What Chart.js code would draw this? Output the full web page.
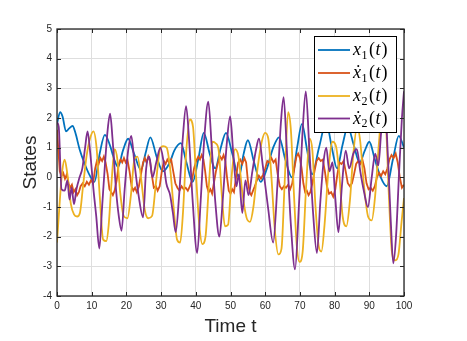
<!DOCTYPE html>
<html lang="en">
<head>
  <meta charset="UTF-8">
  <title>States</title>
  <style>
    html, body { margin: 0; padding: 0; background: #fff; }
    #chart { display: block; }
  </style>
</head>
<body>
  <canvas id="chart" width="467" height="341"></canvas>

  <script src="https://cdn.jsdelivr.net/npm/chart.js"></script>

  <script>
    // axis ranges / ticks
    const xMin = 0, xMax = 100, xStep = 10;
    const yMin = -4, yMax = 5, yStep = 1;

    // legend text pieces: letter, subscript
    const seriesLetters = ['x', '\u1E8B', 'x', '\u1E8B'];
    const seriesSubs = ['1', '1', '2', '2'];
    const seriesLabels = ['x\u2081(t)', '\u1E8B\u2081(t)', 'x\u2082(t)', '\u1E8B\u2082(t)'];
    const seriesColors = ['#0072BD', '#D95319', '#EDB120', '#7E2F8E'];

    // x1(t)
    const x1T = [0, 0.9, 1.6, 2.6, 3.5, 4.5, 5.3, 6.5, 8, 9.5, 10.8, 12.3, 13.8, 15.2, 16.5, 17.6, 19, 20.5, 22.2, 24.2,
      25.5, 26.9, 28.7, 30.5, 32.5, 33.8, 35.7, 37.3, 39.1, 40.7, 42.3, 44, 45.6, 47.2, 48.7, 50.5, 52.4, 53.8, 55, 56.8,
      58.7, 60.5, 62.3, 64, 65.8, 67.7, 69.2, 70.6, 72.1, 73.5, 75.5, 77.6, 79.2, 80.7, 82.3, 83.8, 85.5, 87.2, 88.7, 90,
      91.6, 93.3, 95, 96.8, 98.5, 100];
    const x1V = [1.8, 2.2, 2.05, 1.55, 1.65, 1.73, 1.5, 0.95, 0.45, 0.05, -0.15, 0.8, 1.43, 1.1, 0.6, 0.35, 0.9, 1.3, 0.8, 0.25,
      0.8, 1.35, 0.7, 0.2, 0.5, 0.9, 1.15, 0.5, -0.15, 0.6, 1.5, 0.8, 0.3, 1.0, 1.5, 0.8, 0.0, 0.8, 1.25, 0.5,
      -0.15, 0.3, 1.0, 1.35, 0.6, 0.0, 1.0, 1.8, 0.9, 0.1, 1.0, 1.85, 1.0, 0.3, 1.1, 1.7, 1.1, 0.5, 0.9, 1.2,
      0.6, 0.0, -0.3, 0.6, 1.4, 1.0];

    // x1'(t)
    const dx1T = [0, 0.3, 0.8, 1.3, 1.8, 2.3, 2.8, 3.3, 3.8, 4.3, 4.8, 5.3, 5.8, 6.3, 6.8, 7.4, 8.0, 8.6, 9.2, 9.8,
      10.4, 11.0, 11.5, 12.0, 12.5, 13.0, 13.5, 14.0, 14.6, 15.1, 15.6, 16.1, 16.6, 17.2, 17.8, 18.3, 18.8, 19.3, 19.8, 20.3,
      20.9, 21.5, 22.0, 22.5, 23.0, 23.6, 24.2, 24.8, 25.3, 25.8, 26.3, 26.8, 27.3, 27.9, 28.5, 29.0, 29.6, 30.2, 30.8, 31.3,
      31.8, 32.3, 32.9, 33.5, 34.1, 34.7, 35.3, 35.9, 36.5, 37.1, 37.7, 38.3, 38.9, 39.5, 40.1, 40.7, 41.2, 41.7, 42.2, 42.7,
      43.2, 43.7, 44.2, 44.7, 45.2, 45.8, 46.4, 47.0, 47.5, 48.0, 48.5, 49.0, 49.5, 50.0, 50.5, 51.0, 51.6, 52.2, 52.8, 53.4,
      54.0, 54.5, 55.0, 55.5, 56.0, 56.5, 57.0, 57.6, 58.2, 58.8, 59.4, 60.0, 60.6, 61.2, 61.8, 62.4, 63.0, 63.6, 64.2, 64.8,
      65.4, 66.0, 66.6, 67.2, 67.8, 68.4, 69.0, 69.5, 70.0, 70.5, 71.0, 71.5, 72.0, 72.5, 73.0, 73.6, 74.2, 74.8, 75.4, 76.0,
      76.6, 77.2, 77.8, 78.4, 79.0, 79.6, 80.2, 80.8, 81.4, 82.0, 82.6, 83.2, 83.8, 84.4, 85.0, 85.6, 86.2, 86.8, 87.4, 88.0,
      88.6, 89.2, 89.8, 90.4, 91.0, 91.6, 92.2, 92.8, 93.4, 94.0, 94.6, 95.2, 95.8, 96.4, 97.0, 97.6, 98.2, 98.8, 99.4, 100];
    const dx1V = [1.6, 1.1, 0.2, 0.05, 0.15, -0.05, 0.1, -0.2, -0.35, -0.25, -0.5, -0.4, -0.6, -0.5, -0.3, -0.2, -0.3, -0.15, -0.25, -0.1,
      -0.2, 0.3, 0.55, 0.45, 0.65, 0.55, 0.7, 0.5, 0.1, -0.4, -0.5, -0.6, -0.45, -0.1, 0.45, 0.6, 0.5, 0.65, 0.5, 0.6,
      0.2, -0.3, -0.45, -0.35, -0.5, -0.3, 0.1, 0.5, 0.65, 0.5, 0.7, 0.55, 0.1, -0.35, -0.3, -0.45, -0.3, 0.2, 0.55, 0.45,
      0.6, 0.5, 0.6, 0.2, -0.2, -0.35, -0.45, -0.3, -0.4, -0.35, -0.45, -0.3, -0.1, 0.3, 0.55, 0.7, 0.6, 0.75, 0.6, 0.2,
      -0.3, -0.5, -0.4, -0.55, -0.2, 0.2, 0.5, 0.7, 0.6, 0.75, 0.55, 0.0, -0.45, -0.55, -0.4, -0.5, 0.0, 0.5, 0.6, 0.45,
      0.65, 0.5, -0.1, -0.5, -0.6, -0.45, -0.3, -0.1, 0.05, -0.05, 0.1, 0.3, 0.55, 0.5, 0.65, 0.5, 0.6, 0.1, -0.3, -0.4,
      -0.3, -0.35, -0.25, -0.4, -0.2, 0.3, 0.7, 0.8, 0.65, 0.3, -0.2, -0.5, -0.45, -0.6, -0.5, -0.2, 0.2, 0.55, 0.65, 0.55,
      0.6, 0.2, -0.3, -0.55, -0.5, -0.65, -0.4, 0.1, 0.5, 0.45, 0.55, 0.2, -0.2, -0.3, -0.2, 0.1, 0.45, 0.55, 0.45, 0.6,
      0.3, -0.2, -0.4, -0.35, -0.45, -0.3, 0.0, 0.15, 0.05, 0.2, 0.1, 0.3, 0.6, 0.75, 0.65, 0.8, 0.5, 0.0, -0.35, -0.25];

    // x2(t)
    const x2T = [0, 0.8, 1.5, 2.2, 3.0, 4.0, 4.9, 5.8, 6.6, 7.5, 8.5, 9.5, 10.5, 11.4, 12.3, 13.3, 14.2, 14.9, 15.7, 16.6,
      17.4, 18.2, 19.2, 20.3, 21.3, 22.3, 23.2, 24.2, 25.3, 26.3, 27.4, 28.5, 29.6, 30.6, 31.6, 32.6, 33.6, 34.6, 35.5, 36.3,
      37.2, 38.3, 39.2, 40.0, 41.0, 41.9, 42.8, 43.8, 44.8, 45.7, 46.6, 47.5, 48.4, 49.3, 50.3, 51.3, 52.3, 53.4, 54.6, 55.6,
      56.6, 57.8, 59.0, 60.0, 60.9, 61.8, 62.8, 63.8, 64.7, 65.6, 66.6, 67.4, 68.3, 69.1, 69.9, 70.8, 71.8, 72.8, 73.6, 74.5,
      75.4, 76.2, 77.1, 78.2, 79.4, 80.4, 81.3, 82.3, 83.4, 84.4, 85.4, 86.5, 87.4, 88.4, 89.6, 90.7, 91.7, 92.8, 93.9, 94.8,
      95.6, 96.5, 97.5, 98.4, 99.3, 100];
    const x2V = [-2.2, -0.8, 0.2, 0.6, 0.1, -0.9, -1.25, -1.32, -1.2, -0.3, 0.7, 1.3, 1.55, 1.0, -0.6, -2.1, -2.15, -1.6, -0.2, 0.95,
      0.6, -0.5, -1.3, -1.38, -0.6, 0.6, 0.7, 0.0, -1.1, -1.38, -1.3, -0.2, 0.9, 1.05, 1.0, 0.3, -1.0, -2.1, -2.2, -1.2,
      0.8, 1.95, 1.7, 0.2, -1.6, -2.25, -2.0, -0.2, 1.2, 1.15, 0.9, -0.6, -1.65, -1.6, 0.0, 0.95, 0.7, -0.5, -1.35, -1.5,
      -1.0, 0.3, 1.2, 1.5, 1.3, 0.0, -1.8, -2.6, -2.4, -0.2, 2.2, 1.6, -0.6, -2.3, -2.85, -2.5, -0.3, 1.3, 0.9, -1.0,
      -2.3, -2.5, -1.6, 0.2, 1.2, 1.05, 0.2, -1.3, -1.65, -0.8, 0.8, 1.7, 1.2, -0.2, -1.3, -1.45, -0.6, 1.2, 2.5, 1.8,
      -0.5, -2.5, -2.8, -2.6, -1.5, -0.7];

    // x2'(t)
    const dx2T = [0, 0.5, 1.3, 2.2, 3.0, 3.6, 4.2, 4.9, 5.6, 6.5, 7.3, 8.1, 8.8, 9.6, 10.5, 11.3, 12.2, 13.0, 13.8, 14.6,
      15.3, 16.0, 17.0, 17.8, 18.6, 19.5, 20.5, 21.4, 22.3, 23.5, 24.8, 25.7, 26.6, 27.5, 28.6, 29.8, 30.6, 31.5, 32.6, 33.4,
      34.2, 35.2, 36.3, 37.2, 38.1, 39.1, 40.4, 41.4, 42.5, 43.6, 44.6, 45.6, 46.8, 47.8, 48.9, 49.9, 50.8, 51.7, 52.4, 53.4,
      54.3, 55.2, 56.3, 57.3, 58.2, 59.3, 60.8, 62.3, 63.5, 64.5, 65.3, 66.2, 67.4, 68.6, 69.7, 70.8, 71.7, 72.7, 73.8, 74.9,
      75.9, 76.8, 77.6, 78.5, 79.4, 80.2, 81.1, 82.1, 83.2, 84.2, 85.4, 86.4, 87.4, 88.5, 89.6, 90.7, 91.7, 92.6, 93.4, 94.4,
      95.4, 96.2, 96.9, 97.7, 98.6, 99.4, 100];
    const dx2V = [1.85, 1.7, -0.4, -0.45, -0.1, -0.75, -0.35, -0.9, -0.4, 0.0, 0.3, 1.0, 1.55, 0.8, -0.4, -1.3, -2.4, -1.0, 0.4, 1.6,
      2.15, 1.3, -0.4, -1.3, -1.8, -0.4, 0.9, 1.4, 0.5, -0.6, -1.35, 0.3, 0.7, 0.0, 0.5, 1.0, 0.6, -0.2, -0.6, -1.2,
      -1.85, -0.6, 1.4, 2.4, 1.2, -0.8, -2.55, -0.8, 1.4, 2.55, 1.0, -0.8, -2.0, -0.7, 1.1, 2.05, 0.8, -0.3, 0.1, -1.2,
      -0.1, -0.6, 0.2, 0.9, 1.3, 0.4, -1.0, -2.2, -0.3, 1.8, 2.7, 1.0, -1.6, -3.1, -1.0, 1.6, 2.9, 1.0, -1.2, -2.55,
      -0.8, 0.5, 1.0, 0.2, 0.5, -0.7, -1.85, -0.3, 0.9, 0.3, 0.8, 0.95, 0.2, -0.5, -1.0, 0.0, 0.8, 0.4, 1.5, 2.6,
      0.6, -1.5, -2.9, -2.0, 0.2, 2.0, 2.9];

    const toPoints = (ts, vs) => ts.map((t, i) => ({ x: t, y: vs[i] }));

    const axisColor = '#262626';
    const gridColor = '#dedede';

    // box, inward ticks, legend (matlab look)
    const matlabAxes = {
      id: 'matlabAxes',
      afterDatasetsDraw(chart) {
        const ctx = chart.ctx;
        const { left, right, top, bottom } = chart.chartArea;
        const xs = chart.scales.x, ys = chart.scales.y;
        ctx.save();
        ctx.strokeStyle = axisColor;
        ctx.lineWidth = 1;
        ctx.beginPath();
        for (let v = xMin; v <= xMax; v += xStep) {
          const px = Math.round(xs.getPixelForValue(v)) + 0.5;
          ctx.moveTo(px, bottom); ctx.lineTo(px, bottom - 4);
          ctx.moveTo(px, top); ctx.lineTo(px, top + 4);
        }
        for (let v = yMin; v <= yMax; v += yStep) {
          const py = Math.round(ys.getPixelForValue(v)) + 0.5;
          ctx.moveTo(left, py); ctx.lineTo(left + 4, py);
          ctx.moveTo(right, py); ctx.lineTo(right - 4, py);
        }
        ctx.stroke();
        ctx.lineWidth = 1.3;
        ctx.strokeRect(left, top, right - left, bottom - top);

        // legend box
        const bx = 314, by = 36, bw = 82, bh = 96;
        ctx.fillStyle = '#fff';
        ctx.fillRect(bx, by, bw, bh);
        ctx.lineWidth = 1;
        ctx.strokeStyle = '#000';
        ctx.strokeRect(bx + 0.5, by + 0.5, bw, bh);

        const rows = [50, 73, 96, 118.5];
        chart.data.datasets.forEach((ds, i) => {
          const ry = rows[i];
          ctx.strokeStyle = ds.borderColor;
          ctx.lineWidth = 1.8;
          ctx.beginPath();
          ctx.moveTo(318, ry); ctx.lineTo(350, ry);
          ctx.stroke();

          ctx.fillStyle = '#000';
          ctx.textBaseline = 'alphabetic';
          ctx.textAlign = 'left';
          const base = ry + 5;
          let cx = 353;
          ctx.font = 'italic 18px "Liberation Serif", "DejaVu Serif", serif';
          ctx.fillText(seriesLetters[i], cx, base);
          cx += ctx.measureText('x').width + 0.5;
          ctx.font = '12px "Liberation Serif", "DejaVu Serif", serif';
          ctx.fillText(seriesSubs[i], cx, base + 3.5);
          cx += ctx.measureText(seriesSubs[i]).width + 1.5;
          ctx.font = '18px "Liberation Serif", "DejaVu Serif", serif';
          ctx.fillText('(', cx, base);
          cx += ctx.measureText('(').width + 0.5;
          ctx.font = 'italic 18px "Liberation Serif", "DejaVu Serif", serif';
          ctx.fillText('t', cx, base);
          cx += ctx.measureText('t').width + 1;
          ctx.font = '18px "Liberation Serif", "DejaVu Serif", serif';
          ctx.fillText(')', cx, base);
        });
        ctx.restore();
      }
    };

    const lineStyle = (label, color, pts, order, smooth) => ({
      label: label,
      data: pts,
      borderColor: color,
      backgroundColor: color,
      borderWidth: 1.8,
      pointRadius: 0,
      fill: false,
      order: order,
      cubicInterpolationMode: smooth ? 'monotone' : 'default',
      tension: smooth ? 0.4 : 0
    });

    new Chart(document.getElementById('chart'), {
      type: 'line',
      data: {
        datasets: [
          lineStyle(seriesLabels[0], seriesColors[0], toPoints(x1T, x1V), 4, true),
          lineStyle(seriesLabels[1], seriesColors[1], toPoints(dx1T, dx1V), 3, false),
          lineStyle(seriesLabels[2], seriesColors[2], toPoints(x2T, x2V), 2, true),
          lineStyle(seriesLabels[3], seriesColors[3], toPoints(dx2T, dx2V), 1, true)
        ]
      },
      options: {
        responsive: false,
        animation: false,
        events: [],
        layout: { padding: { left: 0, top: 29, right: 63, bottom: 0 } },
        plugins: {
          legend: { display: false },
          tooltip: { enabled: false }
        },
        scales: {
          x: {
            type: 'linear',
            min: xMin, max: xMax,
            afterFit(scale) { scale.height = 45; },
            ticks: {
              stepSize: xStep,
              color: axisColor,
              padding: 4,
              maxRotation: 0,
              font: { family: '"Liberation Sans", Arial, sans-serif', size: 10 }
            },
            grid: { color: gridColor, drawTicks: false, tickLength: 0 },
            border: { display: false },
            title: {
              display: true,
              text: 'Time t',
              color: axisColor,
              padding: { top: 0, bottom: 3 },
              font: { family: '"Liberation Sans", Arial, sans-serif', size: 19 }
            }
          },
          y: {
            type: 'linear',
            min: yMin, max: yMax,
            afterFit(scale) { scale.width = 57; },
            ticks: {
              stepSize: yStep,
              color: axisColor,
              padding: 5,
              font: { family: '"Liberation Sans", Arial, sans-serif', size: 10 }
            },
            grid: { color: gridColor, drawTicks: false, tickLength: 0 },
            border: { display: false },
            title: {
              display: true,
              text: 'States',
              color: axisColor,
              padding: { top: 19, bottom: 0 },
              font: { family: '"Liberation Sans", Arial, sans-serif', size: 19 }
            }
          }
        }
      },
      plugins: [matlabAxes]
    });
  </script>
</body>
</html>
